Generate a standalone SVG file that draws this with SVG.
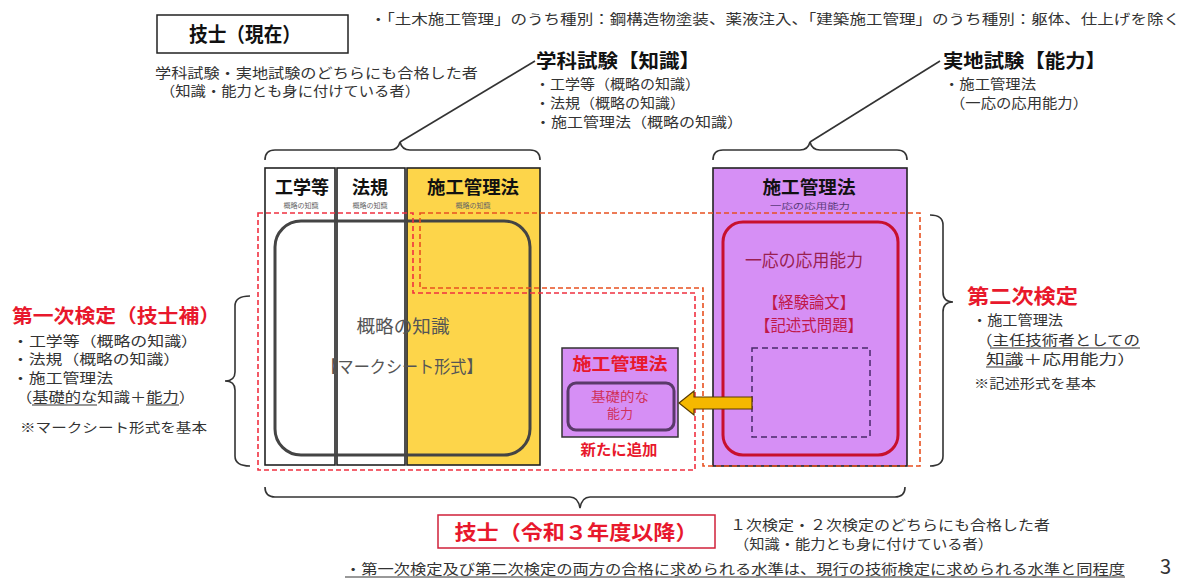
<svg xmlns="http://www.w3.org/2000/svg" width="1189" height="581" viewBox="0 0 1189 581">
<style>
text{font-family:"Noto Sans CJK JP","Noto Sans CJK SC",sans-serif;fill:#333}
.b{font-weight:bold;fill:#111}
.t14{font-size:14px}
.t13{font-size:13px}
.red{fill:#e8182c;font-weight:bold}
.col{stroke:#222;stroke-width:1.6}
.brace{fill:none;stroke:#333;stroke-width:1.6}
.sub{font-size:7px;fill:#666;text-anchor:middle}
.c{text-anchor:middle}
.d1{fill:none;stroke:#f03040;stroke-width:1.6;stroke-dasharray:5 3}
.d2{fill:none;stroke:#e85020;stroke-width:1.6;stroke-dasharray:5 3}
.u{stroke:#333;stroke-width:1}
</style>
<rect width="1189" height="581" fill="#fff"/>

<g id="current">
<rect x="157" y="15" width="191" height="38" fill="#fff" stroke="#222" stroke-width="1.5"/>
<text x="245" y="42" class="b c" font-size="20" textLength="112" lengthAdjust="spacingAndGlyphs">技士（現在）</text>
<text x="155" y="78" class="t14" textLength="323" lengthAdjust="spacingAndGlyphs">学科試験・実地試験のどちらにも合格した者</text>
<text x="160" y="96" class="t14" textLength="260" lengthAdjust="spacingAndGlyphs">（知識・能力とも身に付けている者）</text>
</g>

<g id="note-top">
<text x="370" y="24" font-size="14" textLength="810" lengthAdjust="spacingAndGlyphs">・「土木施工管理」のうち種別：鋼構造物塗装、薬液注入、「建築施工管理」のうち種別：躯体、仕上げを除く</text>
</g>

<g id="gakka">
<text x="536" y="68" class="b" font-size="19" textLength="164" lengthAdjust="spacingAndGlyphs">学科試験【知識】</text>
<text x="535" y="89" class="t14" textLength="165" lengthAdjust="spacingAndGlyphs">・工学等（概略の知識）</text>
<text x="535" y="108" class="t14" textLength="150" lengthAdjust="spacingAndGlyphs">・法規（概略の知識）</text>
<text x="535" y="127" class="t14" textLength="208" lengthAdjust="spacingAndGlyphs">・施工管理法（概略の知識）</text>
</g>

<g id="jitchi">
<text x="943" y="68" class="b" font-size="19" textLength="163" lengthAdjust="spacingAndGlyphs">実地試験【能力】</text>
<text x="944" y="89" class="t14" textLength="92" lengthAdjust="spacingAndGlyphs">・施工管理法</text>
<text x="950" y="108" class="t14" textLength="138" lengthAdjust="spacingAndGlyphs">（一応の応用能力）</text>
</g>

<g id="col-kogaku">
<rect x="265" y="168" width="70" height="297" fill="#fff" class="col"/>
<text x="302" y="194" class="b c" font-size="18">工学等</text>
<text x="301" y="208" class="sub">概略の知識</text>
</g>
<g id="col-hoki">
<rect x="337" y="168" width="68" height="297" fill="#fff" class="col"/>
<text x="370" y="194" class="b c" font-size="18">法規</text>
<text x="370" y="208" class="sub">概略の知識</text>
</g>
<g id="col-sekou1">
<rect x="407" y="168" width="133" height="297" fill="#fdd54a" class="col"/>
<text x="473" y="194" class="b c" font-size="18" textLength="92" lengthAdjust="spacingAndGlyphs">施工管理法</text>
<text x="473" y="208" class="sub">概略の知識</text>
</g>

<g id="mark">
<rect x="275" y="221" width="255" height="234" rx="26" fill="none" stroke="#444" stroke-width="3"/>
<text x="403" y="333" class="c" font-size="18" style="fill:#555" textLength="93" lengthAdjust="spacingAndGlyphs">概略の知識</text>
<text x="402" y="373" class="c" font-size="17" style="fill:#555" textLength="161" lengthAdjust="spacingAndGlyphs">【マークシート形式】</text>
</g>

<g id="col-sekou2">
<rect x="713" y="168" width="194" height="298" fill="#d68ff5" class="col"/>
<text x="809" y="194" class="b c" font-size="18" textLength="93" lengthAdjust="spacingAndGlyphs">施工管理法</text>
<text x="810" y="209" class="c" font-size="8.5" style="fill:#5a3a7a" textLength="80" lengthAdjust="spacingAndGlyphs">一応の応用能力</text>
<rect x="723" y="222" width="175" height="233" rx="20" fill="none" stroke="#c8102e" stroke-width="3"/>
<text x="804" y="267" class="c" font-size="18" style="fill:#9a2050" textLength="118" lengthAdjust="spacingAndGlyphs">一応の応用能力</text>
<text x="809" y="308" class="c" font-size="16" style="fill:#c0184a" textLength="92" lengthAdjust="spacingAndGlyphs">【経験論文】</text>
<text x="809" y="331" class="c" font-size="16" style="fill:#c0184a" textLength="108" lengthAdjust="spacingAndGlyphs">【記述式問題】</text>
<rect x="752" y="348" width="118" height="89" fill="none" stroke="#4a2a6a" stroke-width="1.5" stroke-dasharray="6 4"/>
</g>

<g id="new">
<rect x="562" y="348" width="116" height="89" fill="#d68ff5" stroke="#333" stroke-width="1.5"/>
<text x="620" y="370" class="red c" font-size="17" textLength="95" lengthAdjust="spacingAndGlyphs">施工管理法</text>
<rect x="568" y="383" width="106" height="47" rx="8" fill="#d68ff5" stroke="#5a3a6a" stroke-width="3"/>
<text x="620" y="401" class="c" font-size="13" style="fill:#d0305a" textLength="58" lengthAdjust="spacingAndGlyphs">基礎的な</text>
<text x="620" y="418" class="c" font-size="13" style="fill:#d0305a">能力</text>
<text x="619" y="455" class="red c" font-size="15" textLength="77" lengthAdjust="spacingAndGlyphs">新たに追加</text>
</g>

<g id="connectors">
<path d="M258,213 L413,213 L413,293 L695,293 L695,470 L258,470 Z" class="d1"/>
<path d="M420,213 L920,213 L920,466 L703,466 L703,288 L420,288 Z" class="d2"/>
<polygon points="679,403 694,391 694,397 752,397 752,409 694,409 694,415" fill="#f5b800" stroke="#5a3a00" stroke-width="1.2"/>
<path d="M265,160 Q265,150 275,150 L390,150 Q398,150 400,142 Q402,150 410,150 L530,150 Q540,150 540,160" class="brace"/>
<path d="M400,142 L535,61" class="brace"/>
<path d="M713,160 Q713,150 723,150 L800,150 Q808,150 810,142 Q812,150 820,150 L897,150 Q907,150 907,160" class="brace"/>
<path d="M810,142 L940,61" class="brace"/>
<path d="M250,296 Q235,296 235,306 L235,372 Q235,381 225,381 Q235,381 235,390 L235,456 Q235,466 250,466" class="brace"/>
<path d="M930,215 Q943,215 943,225 L943,292 Q943,302 953,302 Q943,302 943,312 L943,456 Q943,466 930,466" class="brace"/>
<path d="M265,487 Q265,497 275,497 L570,497 Q578,497 580,508 Q582,497 590,497 L895,497 Q905,497 905,487" class="brace"/>
</g>

<g id="first">
<text x="12" y="323" class="red" font-size="19" textLength="208" lengthAdjust="spacingAndGlyphs">第一次検定（技士補）</text>
<text x="12" y="346" class="t14" textLength="186" lengthAdjust="spacingAndGlyphs">・工学等（概略の知識）</text>
<text x="12" y="364" class="t14" textLength="168" lengthAdjust="spacingAndGlyphs">・法規（概略の知識）</text>
<text x="12" y="383" class="t14" textLength="101" lengthAdjust="spacingAndGlyphs">・施工管理法</text>
<text x="16" y="402" class="t14" textLength="179" lengthAdjust="spacingAndGlyphs">（基礎的な知識＋能力）</text>
<line x1="32" y1="405" x2="97" y2="405" class="u"/>
<line x1="146" y1="405" x2="179" y2="405" class="u"/>
<text x="20" y="432" class="t13" textLength="187" lengthAdjust="spacingAndGlyphs">※マークシート形式を基本</text>
</g>

<g id="second">
<text x="967" y="304" class="red" font-size="20" textLength="111" lengthAdjust="spacingAndGlyphs">第二次検定</text>
<text x="972" y="325" class="t14" textLength="91" lengthAdjust="spacingAndGlyphs">・施工管理法</text>
<text x="976" y="345" class="t14" textLength="164" lengthAdjust="spacingAndGlyphs">（主任技術者としての</text>
<line x1="990" y1="348" x2="1140" y2="348" class="u"/>
<text x="986" y="364" class="t14" textLength="150" lengthAdjust="spacingAndGlyphs">知識＋応用能力）</text>
<line x1="986" y1="367" x2="1019" y2="367" class="u"/>
<text x="974" y="388" font-size="13" textLength="122" lengthAdjust="spacingAndGlyphs">※記述形式を基本</text>
</g>

<g id="future">
<rect x="438" y="515" width="277" height="33" fill="#fff" stroke="#d0203a" stroke-width="1.5"/>
<text x="576" y="540" class="red c" font-size="20" textLength="243" lengthAdjust="spacingAndGlyphs">技士（令和３年度以降）</text>
<text x="730" y="530" class="t14" textLength="320" lengthAdjust="spacingAndGlyphs">１次検定・２次検定のどちらにも合格した者</text>
<text x="734" y="549" class="t14" textLength="259" lengthAdjust="spacingAndGlyphs">（知識・能力とも身に付けている者）</text>
</g>

<g id="note-bottom">
<text x="345" y="574" font-size="14" textLength="780" lengthAdjust="spacingAndGlyphs">・第一次検定及び第二次検定の両方の合格に求められる水準は、現行の技術検定に求められる水準と同程度</text>
<line x1="345" y1="577" x2="1125" y2="577" class="u"/>
<text x="1160" y="574" font-size="20" font-family="Liberation Sans, sans-serif">3</text>
</g>
</svg>
